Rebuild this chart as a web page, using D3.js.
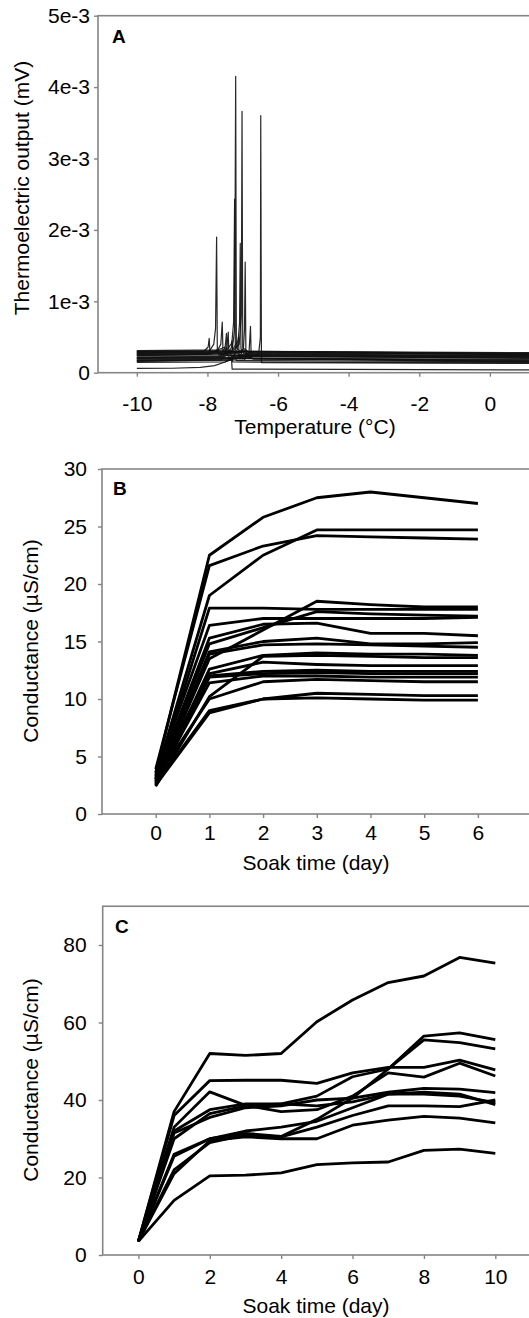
<!DOCTYPE html>
<html><head><meta charset="utf-8">
<script src="https://cdn.jsdelivr.net/npm/d3@7"></script>
<style>
html,body{margin:0;padding:0;background:#fff;}
svg{display:block;font-family:"Liberation Sans",Arial,sans-serif;}
</style></head>
<body>
<svg id="chart" width="529" height="1318"></svg>
<script>
// ---------- Panel A data: thermoelectric traces as [temperature °C, output mV] ----------
const aTicksX = [-10, -8, -6, -4, -2, 0];
const aTicksY = [0, 1e-3, 2e-3, 3e-3, 4e-3, 5e-3];
const aTickLabelsY = ["0", "1e-3", "2e-3", "3e-3", "4e-3", "5e-3"];
const aTrace1  = [[-10,0.25e-3],[-7.5,0.26e-3],[-7.3,0.32e-3],[-7.23,0.6e-3],[-7.20,4.15e-3],[-7.18,0.35e-3],[-7.0,0.25e-3],[1.2,0.23e-3]];
const aTrace2  = [[-10,0.22e-3],[-7.5,0.23e-3],[-7.32,0.35e-3],[-7.26,0.7e-3],[-7.23,2.43e-3],[-7.21,0.3e-3],[-7.0,0.22e-3],[1.2,0.21e-3]];
const aTrace3  = [[-10,0.28e-3],[-7.3,0.29e-3],[-7.1,0.4e-3],[-7.04,0.8e-3],[-7.02,3.66e-3],[-7.0,0.35e-3],[-6.8,0.28e-3],[1.2,0.26e-3]];
const aTrace4  = [[-10,0.20e-3],[-6.8,0.21e-3],[-6.55,0.26e-3],[-6.5,0.5e-3],[-6.49,3.60e-3],[-6.47,0.14e-3],[1.2,0.13e-3]];
const aTrace5  = [[-10,0.24e-3],[-8.0,0.26e-3],[-7.82,0.4e-3],[-7.77,0.62e-3],[-7.74,1.90e-3],[-7.72,0.3e-3],[-7.5,0.24e-3],[1.2,0.22e-3]];
const aTrace6  = [[-10,0.19e-3],[-7.1,0.2e-3],[-6.98,0.35e-3],[-6.95,0.6e-3],[-6.93,1.55e-3],[-6.91,0.25e-3],[-6.7,0.19e-3],[1.2,0.18e-3]];
const aTrace7  = [[-10,0.30e-3],[-7.3,0.31e-3],[-7.13,0.45e-3],[-7.09,0.7e-3],[-7.07,1.81e-3],[-7.05,0.33e-3],[-6.9,0.30e-3],[1.2,0.27e-3]];
const aTrace8  = [[-10,0.17e-3],[-6.95,0.18e-3],[-6.82,0.3e-3],[-6.78,0.65e-3],[-6.76,0.2e-3],[1.2,0.16e-3]];
const aTrace9  = [[-10,0.27e-3],[-7.75,0.28e-3],[-7.62,0.4e-3],[-7.58,0.71e-3],[-7.56,0.3e-3],[1.2,0.25e-3]];
const aTrace10 = [[-10,0.29e-3],[-8.1,0.3e-3],[-7.98,0.36e-3],[-7.95,0.48e-3],[-7.93,0.3e-3],[1.2,0.27e-3]];
const aTrace11 = [[-10,0.16e-3],[-7.6,0.18e-3],[-7.45,0.35e-3],[-7.41,0.57e-3],[-7.39,0.2e-3],[1.2,0.15e-3]];
const aTrace12 = [[-10,0.21e-3],[-7.65,0.22e-3],[-7.5,0.35e-3],[-7.46,0.55e-3],[-7.44,0.24e-3],[1.2,0.20e-3]];
const aTrace13 = [[-10,0.06e-3],[-9,0.062e-3],[-8.2,0.075e-3],[-7.8,0.1e-3],[-7.5,0.15e-3],[-7.32,0.21e-3],[-7.3,0.05e-3],[1.2,0.04e-3]];
const aTrace14 = [[-10,0.31e-3],[-7.45,0.32e-3],[-7.33,0.4e-3],[-7.3,0.45e-3],[-7.28,0.3e-3],[1.2,0.28e-3]];
const aTrace15 = [[-10,0.18e-3],[-7.3,0.19e-3],[-7.16,0.32e-3],[-7.12,0.5e-3],[-7.1,0.2e-3],[1.2,0.17e-3]];
const aTrace16 = [[-10,0.26e-3],[-7.2,0.27e-3],[-6.9,0.3e-3],[-6.88,0.26e-3],[1.2,0.24e-3]];
const aTrace17 = [[-10,0.165e-3],[-7.4,0.17e-3],[-7.2,0.2e-3],[-7.18,0.17e-3],[1.2,0.155e-3]];
const aTrace18 = [[-10,0.205e-3],[-7.0,0.21e-3],[-6.85,0.26e-3],[-6.83,0.2e-3],[1.2,0.19e-3]];
const aTrace19 = [[-10,0.235e-3],[-7.6,0.24e-3],[-7.35,0.3e-3],[-7.33,0.23e-3],[1.2,0.225e-3]];
const aTrace20 = [[-10,0.255e-3],[-7.9,0.26e-3],[-7.7,0.33e-3],[-7.68,0.25e-3],[1.2,0.24e-3]];
const aTrace21 = [[-10,0.275e-3],[-7.2,0.28e-3],[-7.0,0.32e-3],[-6.98,0.27e-3],[1.2,0.255e-3]];
const aTrace22 = [[-10,0.295e-3],[-7.8,0.3e-3],[-7.5,0.36e-3],[-7.48,0.29e-3],[1.2,0.265e-3]];
const aTrace23 = [[-10,0.145e-3],[-7.5,0.15e-3],[-7.3,0.19e-3],[-7.28,0.15e-3],[1.2,0.14e-3]];
const aTraces = [aTrace1,aTrace2,aTrace3,aTrace4,aTrace5,aTrace6,aTrace7,aTrace8,aTrace9,aTrace10,aTrace11,aTrace12,
                 aTrace13,aTrace14,aTrace15,aTrace16,aTrace17,aTrace18,aTrace19,aTrace20,aTrace21,aTrace22,aTrace23];

// ---------- Panel B data: conductance (µS/cm) by soak day ----------
const bDays = [0, 1, 2, 3, 4, 5, 6];
const bTicksX = [0, 1, 2, 3, 4, 5, 6];
const bTicksY = [0, 5, 10, 15, 20, 25, 30];
const bSeries = [
  [3.6, 22.5, 25.8, 27.5, 28.0, 27.5, 27.0],
  [3.9, 21.6, 23.3, 24.2, 24.1, 24.0, 23.9],
  [3.3, 19.0, 22.5, 24.7, 24.7, 24.7, 24.7],
  [3.0, 17.9, 17.9, 17.8, 17.8, 17.8, 17.8],
  [2.8, 13.5, 16.0, 18.5, 18.2, 18.0, 18.0],
  [3.4, 16.4, 17.0, 17.0, 17.0, 17.0, 17.1],
  [3.1, 15.3, 16.5, 16.6, 15.7, 15.7, 15.5],
  [2.9, 14.8, 16.2, 17.6, 17.4, 17.3, 17.2],
  [2.7, 14.1, 15.0, 15.3, 14.8, 14.8, 14.9],
  [3.2, 13.9, 14.7, 14.8, 14.7, 14.6, 14.5],
  [2.6, 12.6, 13.8, 14.0, 13.9, 13.9, 13.8],
  [3.0, 12.2, 13.2, 13.0, 12.9, 12.9, 12.9],
  [2.5, 11.9, 12.2, 12.3, 12.2, 12.2, 12.2],
  [3.5, 12.0, 12.4, 12.5, 12.4, 12.4, 12.4],
  [2.8, 11.4, 12.0, 12.0, 11.9, 11.9, 11.9],
  [2.4, 10.2, 13.7, 13.8, 13.7, 13.6, 13.6],
  [3.0, 10.0, 11.5, 11.7, 11.6, 11.5, 11.5],
  [2.5, 8.8, 10.0, 10.5, 10.4, 10.3, 10.3],
  [2.6, 9.0, 10.0, 10.1, 10.0, 9.9, 9.9]
];

// ---------- Panel C data: conductance (µS/cm) by soak day ----------
const cDays = [0, 1, 2, 3, 4, 5, 6, 7, 8, 9, 10];
const cTicksX = [0, 2, 4, 6, 8, 10];
const cTicksY = [0, 20, 40, 60, 80];
const cSeries = [
  [3.5, 37.0, 52.0, 51.5, 52.0, 60.2, 65.8, 70.3, 72.0, 76.8, 75.3],
  [3.5, 36.0, 45.0, 45.1, 45.1, 44.3, 47.0, 48.4, 48.4, 50.3, 47.8],
  [3.5, 33.0, 42.1, 38.6, 37.0, 37.5, 41.0, 47.0, 45.9, 49.5, 46.2],
  [3.5, 25.5, 30.0, 31.4, 30.6, 35.0, 40.5, 48.0, 56.5, 57.3, 55.6],
  [3.5, 30.0, 36.5, 38.5, 39.0, 41.0, 46.0, 48.0, 55.5, 54.8, 53.2],
  [3.5, 31.5, 35.5, 38.0, 38.5, 40.0, 40.5, 42.0, 43.0, 42.8, 41.9],
  [3.5, 26.0, 30.0, 32.0, 33.0, 34.5, 38.0, 41.5, 41.5, 41.0, 39.3],
  [3.5, 32.0, 37.5, 39.0, 39.0, 38.5, 39.5, 41.5, 42.0, 41.5, 38.8],
  [3.5, 22.0, 29.0, 31.0, 30.5, 33.0, 36.0, 38.5, 38.5, 38.3, 40.0],
  [3.5, 21.0, 29.5, 30.5, 30.0, 30.0, 33.5, 34.8, 35.8, 35.3, 34.1],
  [3.5, 14.1, 20.4, 20.6, 21.2, 23.3, 23.8, 24.0, 27.0, 27.3, 26.2]
];

// ---------- drawing ----------
const svg = d3.select("#chart");
const AX = "#858585";
const FONT = 21;

function frame(g, x0, y0, y1) {
  g.append("rect").attr("x", x0).attr("y", y0).attr("width", 560 - x0).attr("height", y1 - y0)
    .attr("fill", "none").attr("stroke", AX).attr("stroke-width", 1.6);
}
function axes(g, x, y, xt, yt, ylabels, o) {
  const xa = d3.axisBottom(x).tickValues(xt).tickSize(o.tick).tickSizeOuter(0).tickPadding(o.xpad).tickFormat(d => String(d));
  const ya = d3.axisLeft(y).tickValues(yt).tickSize(o.tick).tickSizeOuter(0).tickPadding(o.ypad)
    .tickFormat((d, i) => ylabels ? ylabels[i] : String(d));
  const gx = g.append("g").attr("transform", `translate(0,${y.range()[0]})`).call(xa);
  const gy = g.append("g").attr("transform", `translate(${x.range()[0]},0)`).call(ya);
  [gx, gy].forEach(a => {
    a.select(".domain").remove();
    a.selectAll("line").attr("stroke", AX).attr("stroke-width", 1.4);
    a.selectAll("text").attr("fill", "#000").style("font-size", FONT + "px")
      .style("font-family", '"Liberation Sans",Arial,sans-serif');
  });
}
function titles(g, xt, xc, xy, yt, yx, yc, letter, lx, ly) {
  g.append("text").attr("x", xc).attr("y", xy).attr("text-anchor", "middle")
    .style("font-size", FONT + "px").text(xt);
  g.append("text").attr("transform", `translate(${yx},${yc}) rotate(-90)`).attr("text-anchor", "middle")
    .style("font-size", FONT + "px").text(yt);
  g.append("text").attr("x", lx).attr("y", ly).style("font-size", "19px").style("font-weight", "bold").text(letter);
}

// Panel A
{
  const g = svg.append("g");
  const x = d3.scaleLinear().domain([-11.1, 1.2]).range([98, 532.2]);
  const y = d3.scaleLinear().domain([0, 5e-3]).range([372.7, 15.7]);
  frame(g, 98, 15.7, 372.7);
  const line = d3.line().x(d => x(d[0])).y(d => y(d[1]));
  g.append("g").selectAll("path").data(aTraces).join("path")
    .attr("d", line).attr("fill", "none").attr("stroke", "#111").attr("stroke-width", 1.2)
    .attr("stroke-opacity", 0.9).attr("stroke-linejoin", "round");
  axes(g, x, y, aTicksX, aTicksY, aTickLabelsY, {tick: 4, xpad: 19, ypad: 4});
  titles(g, "Temperature (°C)", 315, 434, "Thermoelectric output (mV)", 29, 188, "A", 112, 43);
}
// Panel B
{
  const g = svg.append("g");
  const x = d3.scaleLinear().domain([-1, 7]).range([102, 531.6]);
  const y = d3.scaleLinear().domain([0, 30]).range([814, 469]);
  frame(g, 102, 469, 814);
  const line = d3.line().x((d, i) => x(bDays[i])).y(d => y(d));
  g.append("g").selectAll("path").data(bSeries).join("path")
    .attr("d", line).attr("fill", "none").attr("stroke", "#000").attr("stroke-width", 2.8)
    .attr("stroke-linejoin", "round");
  axes(g, x, y, bTicksX, bTicksY, null, {tick: 4, xpad: 7, ypad: 11});
  titles(g, "Soak time (day)", 316, 870, "Conductance (µS/cm)", 38, 641, "B", 113, 495);
}
// Panel C
{
  const g = svg.append("g");
  const x = d3.scaleLinear().domain([-1, 11]).range([102.7, 531]);
  const y = d3.scaleLinear().domain([0, 90]).range([1255, 906.25]);
  frame(g, 102.7, 906.25, 1255);
  const line = d3.line().x((d, i) => x(cDays[i])).y(d => y(d));
  g.append("g").selectAll("path").data(cSeries).join("path")
    .attr("d", line).attr("fill", "none").attr("stroke", "#000").attr("stroke-width", 2.8)
    .attr("stroke-linejoin", "round");
  axes(g, x, y, cTicksX, cTicksY, null, {tick: 4, xpad: 10, ypad: 12});
  titles(g, "Soak time (day)", 316, 1313, "Conductance (µS/cm)", 38, 1080, "C", 115, 933);
}
</script>
</body></html>
